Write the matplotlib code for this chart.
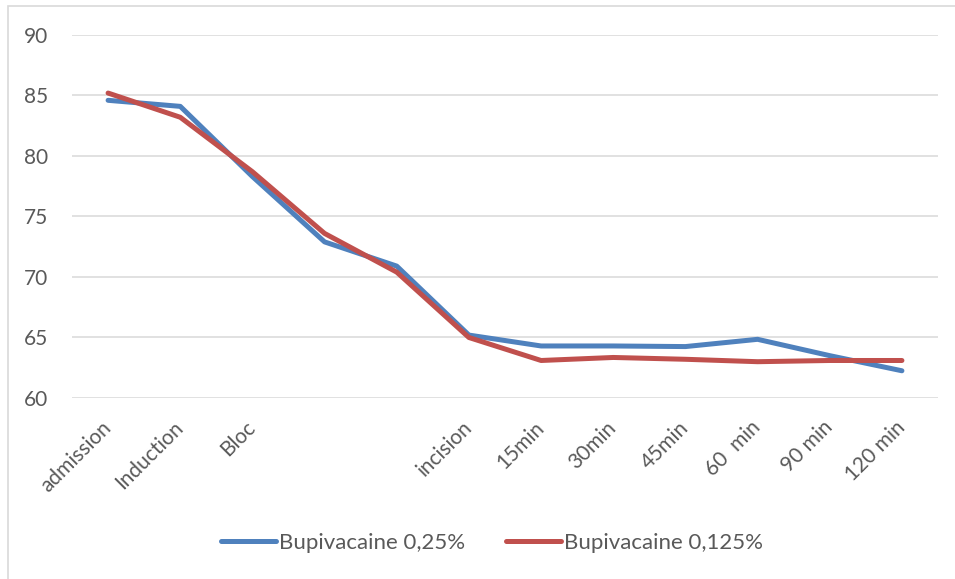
import matplotlib.pyplot as plt
from matplotlib.patches import Rectangle

plt.rcParams['font.family'] = ['Lato', 'DejaVu Sans']

categories = ['admission', 'Induction', 'Bloc', '', '', 'incision', '15min',
              '30min', '45min', '60  min', '90 min', '120 min']
bupi_025 = [84.6, 84.1, 78.3, 72.9, 70.9, 65.2, 64.3, 64.3, 64.25, 64.85, 63.5, 62.25]
bupi_0125 = [85.2, 83.2, 78.7, 73.6, 70.4, 65.0, 63.1, 63.35, 63.2, 63.0, 63.1, 63.1]
yticks = [60, 65, 70, 75, 80, 85, 90]

fig = plt.figure(figsize=(9.55, 5.79), dpi=100)
ax = fig.add_axes([0.0754, 0.3126, 0.9068, 0.627])

x = list(range(len(categories)))
ax.plot(x, bupi_025, color='#4F81BD', lw=3.6, solid_capstyle='round',
        solid_joinstyle='round', label='Bupivacaine 0,25%')
ax.plot(x, bupi_0125, color='#C0504D', lw=3.6, solid_capstyle='round',
        solid_joinstyle='round', label='Bupivacaine 0,125%')

ax.set_xlim(-0.5, len(categories) - 0.5)
ax.set_ylim(60, 90)
ax.set_yticks(yticks)
ax.set_xticks(x)
ax.set_xticklabels(categories, rotation=45, ha='right', va='center',
                   rotation_mode='anchor')
ax.tick_params(axis='both', length=0, colors='#595959', labelsize=15)
ax.tick_params(axis='y', pad=17)
ax.tick_params(axis='x', pad=19)
ax.grid(axis='y', color='#D9D9D9', lw=1.1)
ax.set_axisbelow(True)
for s in ax.spines.values():
    s.set_visible(False)

leg = fig.legend(loc='center', bbox_to_anchor=(492 / 955, 1 - 543 / 579), ncol=2,
                 frameon=False, fontsize=16, handlelength=2.5,
                 handletextpad=0.15, columnspacing=1.8)
for t in leg.get_texts():
    t.set_color('#595959')

# chart frame (left and top edges visible)
fig.add_artist(Rectangle((8 / 955, -0.1), 1.1, 1.1 - 6 / 579, transform=fig.transFigure,
                         fill=False, edgecolor='#D9D9D9', lw=1.2))

fig.savefig('out.png', dpi=100)
